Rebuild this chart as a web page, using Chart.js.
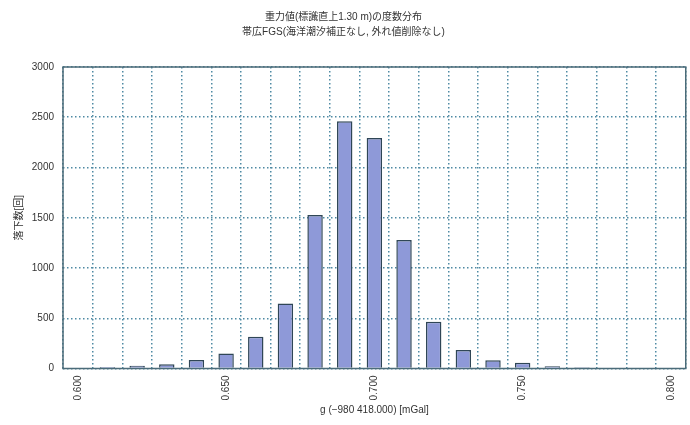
<!DOCTYPE html>
<html>
<head>
<meta charset="utf-8">
<script src="https://cdn.jsdelivr.net/npm/chart.js@4.4.1/dist/chart.umd.min.js"></script>
<style>
  html, body { margin: 0; padding: 0; background: #fff; }
  #wrap { width: 690px; height: 425px; }
</style>
</head>
<body>
<div id="wrap"><canvas id="histChart"></canvas></div>
<script>
// Histogram bins (mGal offset) and counts
const binLabels = [
  '0.600', '0.610', '0.620', '0.630', '0.640', '0.650', '0.660',
  '0.670', '0.680', '0.690', '0.700', '0.710', '0.720', '0.730',
  '0.740', '0.750', '0.760', '0.770', '0.780', '0.790', '0.800'
];
const dropCounts = [
  8, 15, 27, 43, 84, 150, 316,
  648, 1528, 2459, 2293, 1279, 465, 183,
  83, 57, 22, 13, 8, 8, 7
];
const yTicks = [0, 500, 1000, 1500, 2000, 2500, 3000];

const titleLines = [
  '重力値(標識直上1.30 m)の度数分布',
  '帯広FGS(海洋潮汐補正なし, 外れ値削除なし)'
];
const xTitle = 'g (−980 418.000) [mGal]';
const yTitle = '落下数[回]';

const gridColor = '#4f8aa3';
const frameColor = '#4b6b78';
const textColor = '#333';

Chart.defaults.font.family = "'Liberation Sans', 'Noto Sans CJK JP', sans-serif";
Chart.defaults.font.size = 10;
Chart.defaults.color = textColor;

// solid frame round the plot area
const framePlugin = {
  id: 'frame',
  afterDatasetsDraw(chart) {
    const { ctx, chartArea: a } = chart;
    ctx.save();
    ctx.strokeStyle = frameColor;
    ctx.lineWidth = 1.5;
    ctx.strokeRect(a.left, a.top, a.right - a.left, a.bottom - a.top);
    ctx.restore();
  }
};

const ctx = document.getElementById('histChart').getContext('2d');
new Chart(ctx, {
  type: 'bar',
  data: {
    labels: binLabels,
    datasets: [{
      data: dropCounts,
      backgroundColor: '#8e99d8',
      borderColor: '#2f4656',
      borderWidth: 1.5,
      barPercentage: 0.52,
      categoryPercentage: 1.0
    }]
  },
  options: {
    responsive: true,
    maintainAspectRatio: false,
    animation: false,
    layout: { padding: { top: 0, right: 3, bottom: 0, left: 0 } },
    plugins: {
      legend: { display: false },
      tooltip: { enabled: false },
      title: {
        display: true,
        text: titleLines,
        color: textColor,
        font: { size: 10, weight: 'normal', lineHeight: 1.5 },
        padding: { top: 10, bottom: 27 }
      }
    },
    scales: {
      x: {
        grid: {
          offset: true,
          drawTicks: false,
          color: gridColor,
          lineWidth: 1.5
        },
        border: { display: false, dash: [1.5, 2.5] },
        ticks: {
          autoSkip: false,
          minRotation: 90,
          maxRotation: 90,
          padding: 7,
          color: textColor,
          callback: (v, i) => (i % 5 === 0 ? binLabels[i] : '')
        },
        title: {
          display: true,
          text: xTitle,
          color: textColor,
          font: { size: 10 },
          padding: { top: 0, bottom: 9 }
        },
        afterFit(scale) { scale.height = 56.5; }
      },
      y: {
        min: 0,
        max: 3000,
        afterBuildTicks(scale) { scale.ticks = yTicks.map(v => ({ value: v })); },
        grid: {
          drawTicks: false,
          color: gridColor,
          lineWidth: 1.5
        },
        border: { display: false, dash: [1.5, 2.5] },
        ticks: { padding: 9, color: textColor, callback: v => String(v) },
        title: {
          display: true,
          text: yTitle,
          color: textColor,
          font: { size: 10 },
          padding: { top: 13, bottom: 0 }
        },
        afterFit(scale) { scale.width = 63; }
      }
    }
  },
  plugins: [framePlugin]
});
</script>
</body>
</html>
